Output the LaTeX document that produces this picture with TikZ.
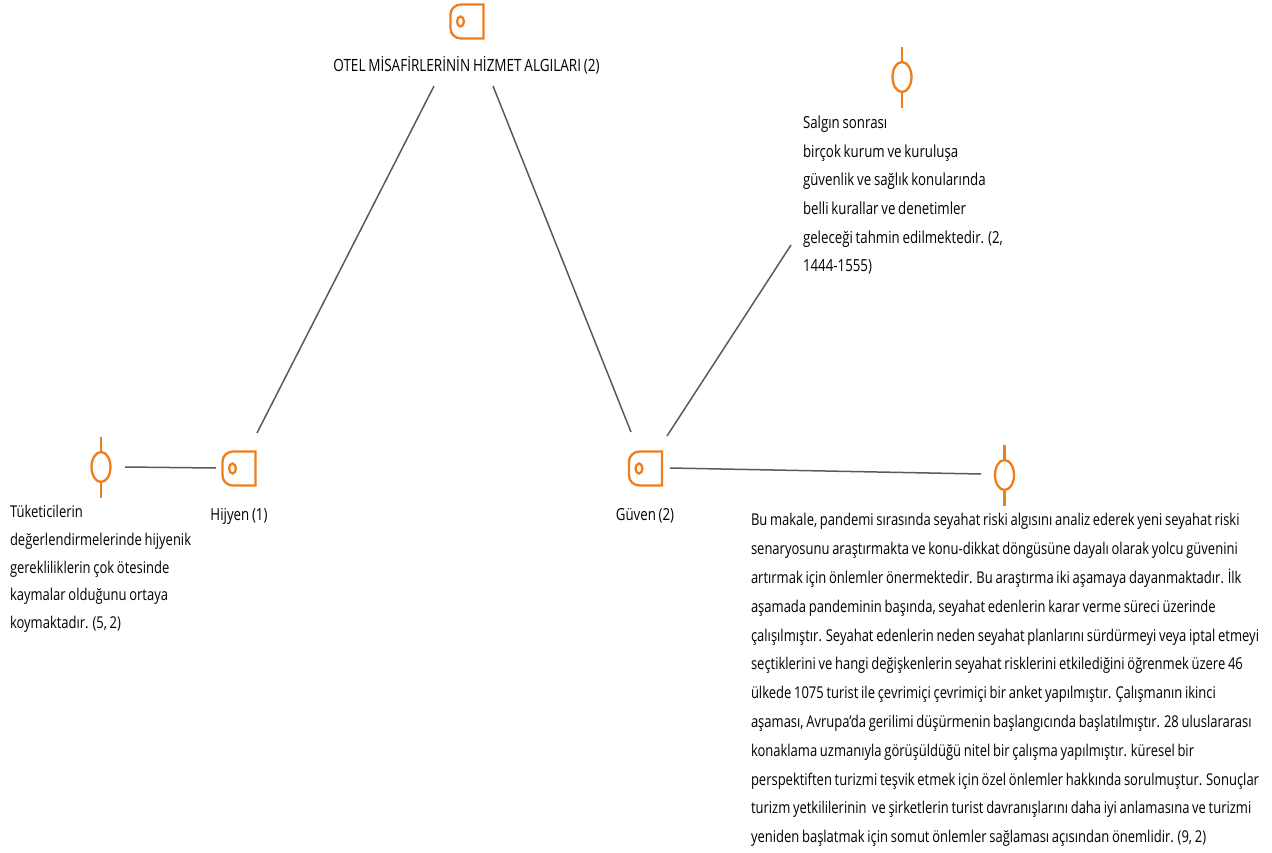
\documentclass[tikz,border=0pt]{standalone}
\usepackage{fontspec}
\setmainfont[FakeStretch=0.80,WordSpace=0.8]{Open Sans}
\definecolor{icon}{HTML}{EE7D1C}
\definecolor{link}{HTML}{5A5A5A}
\tikzset{
  txt/.style={inner sep=0pt,outer sep=0pt,font=\fontsize{16.6}{26.6}\selectfont,text=black},
  para/.style 2 args={txt,anchor=north west,align=left,font=\fontsize{#1}{#2}\selectfont},
  captext/.style={txt,anchor=base},
  linkline/.style={draw=link,line width=1.5pt},
  iconline/.style={draw=icon,line width=2.3pt},
  codeicon/.pic={
    \draw[iconline,rounded corners=0pt] (16.5,-17) -- (-6,-17) to[out=180,in=90] (-16.5,-7) -- (-16.5,7) to[out=-90,in=180] (-6,17) -- (16.5,17) -- cycle;
    \draw[iconline] (-6.5,0) ellipse (3.4 and 5);
  },
  memoicon/.pic={
    \draw[iconline] (0,0) ellipse (9.5 and 15);
    \draw[iconline] (0,-30.5) -- (0,-15);
    \draw[iconline] (0,15) -- (0,30.5);
  }
}
\begin{document}
\begin{tikzpicture}[x=1pt,y=-1pt]
\useasboundingbox (0,0) rectangle (1272,852);
\pic at (467,21.5) {codeicon};
\pic at (239,468.5) {codeicon};
\pic at (645.5,468.5) {codeicon};
\pic at (902,77) {memoicon};
\pic at (101,467) {memoicon};
\pic at (1004.5,475) {memoicon};
\node[captext,font=\fontsize{16.9}{26.6}\selectfont] (otel) at (466.5,71) {OTEL MİSAFİRLERİNİN HİZMET ALGILARI (2)};
\node[captext] (hijyen) at (239,520) {Hijyen (1)};
\node[captext] (guven) at (645,520) {Güven (2)};
\node[para={16.6}{28.6}] (salgin) at (803,116) {Salgın sonrası\\birçok kurum ve kuruluşa\\güvenlik ve sağlık konularında\\belli kurallar ve denetimler\\geleceği tahmin edilmektedir. (2,\\1444-1555)};
\node[para={16.25}{27.6}] (tuketici) at (10,505.5) {Tüketicilerin\\değerlendirmelerinde hijyenik\\gerekliliklerin çok ötesinde\\kaymalar olduğunu ortaya\\koymaktadır. (5, 2)};
\node[para={16.25}{28.8}] (makale) at (751,513.5) {Bu makale, pandemi sırasında seyahat riski algısını analiz ederek yeni seyahat riski\\senaryosunu araştırmakta ve konu-dikkat döngüsüne dayalı olarak yolcu güvenini\\artırmak için önlemler önermektedir. Bu araştırma iki aşamaya dayanmaktadır. İlk\\aşamada pandeminin başında, seyahat edenlerin karar verme süreci üzerinde\\çalışılmıştır. Seyahat edenlerin neden seyahat planlarını sürdürmeyi veya iptal etmeyi\\seçtiklerini ve hangi değişkenlerin seyahat risklerini etkilediğini öğrenmek üzere 46\\ülkede 1075 turist ile çevrimiçi çevrimiçi bir anket yapılmıştır. Çalışmanın ikinci\\aşaması, Avrupa'da gerilimi düşürmenin başlangıcında başlatılmıştır. 28 uluslararası\\konaklama uzmanıyla görüşüldüğü nitel bir çalışma yapılmıştır. küresel bir\\perspektiften turizmi teşvik etmek için özel önlemler hakkında sorulmuştur. Sonuçlar\\turizm yetkililerinin \ ve şirketlerin turist davranışlarını daha iyi anlamasına ve turizmi\\yeniden başlatmak için somut önlemler sağlaması açısından önemlidir. (9, 2)};
\coordinate (o1) at (434,86);
\coordinate (o2) at (493,86);
\coordinate (h1) at (257,433);
\coordinate (h2) at (216,468);
\coordinate (g1) at (631,432);
\coordinate (g2) at (667,436);
\coordinate (g3) at (670,468);
\coordinate (s1) at (791,245);
\coordinate (t1) at (125,467);
\coordinate (m1) at (981,474);
\draw[linkline] (o1) -- (h1);
\draw[linkline] (o2) -- (g1);
\draw[linkline] (g2) -- (s1);
\draw[linkline] (g3) -- (m1);
\draw[linkline] (t1) -- (h2);
\end{tikzpicture}
\end{document}
